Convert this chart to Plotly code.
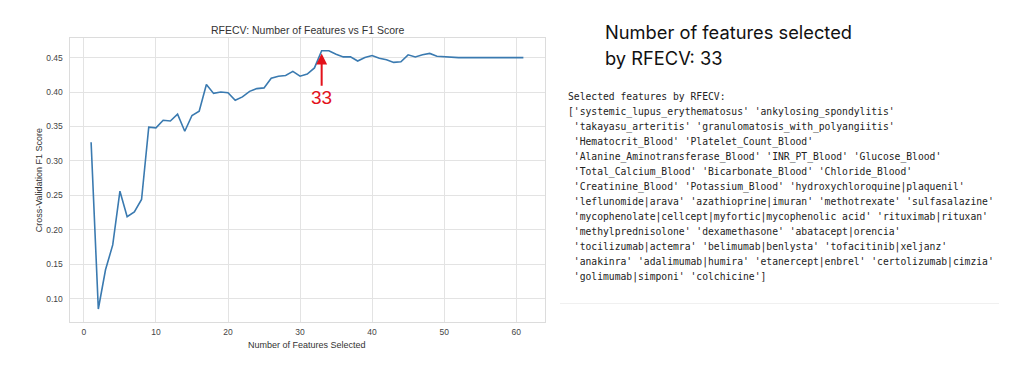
import plotly.graph_objects as go

# ---------------- data ----------------
n_features = list(range(1, 62))
f1_scores = [
    0.327, 0.085, 0.142, 0.178, 0.256, 0.219, 0.226, 0.244, 0.349, 0.348,
    0.359, 0.358, 0.368, 0.343, 0.366, 0.372, 0.411, 0.398, 0.400, 0.399,
    0.388, 0.393, 0.401, 0.405, 0.406, 0.420, 0.423, 0.424, 0.430, 0.423,
    0.426, 0.435, 0.460, 0.460, 0.455, 0.451, 0.451, 0.445, 0.450, 0.453,
    0.449, 0.447, 0.443, 0.444, 0.454, 0.451, 0.454, 0.456, 0.452, 0.451,
    0.450, 0.450, 0.450, 0.450, 0.450, 0.450, 0.450, 0.450, 0.450, 0.450,
    0.450,
]
best_n = 33
best_score = 0.460

x_ticks = [0, 10, 20, 30, 40, 50, 60]
y_ticks = [0.10, 0.15, 0.20, 0.25, 0.30, 0.35, 0.40, 0.45]

selected_features = [
    'systemic_lupus_erythematosus', 'ankylosing_spondylitis',
    'takayasu_arteritis', 'granulomatosis_with_polyangiitis',
    'Hematocrit_Blood', 'Platelet_Count_Blood',
    'Alanine_Aminotransferase_Blood', 'INR_PT_Blood', 'Glucose_Blood',
    'Total_Calcium_Blood', 'Bicarbonate_Blood', 'Chloride_Blood',
    'Creatinine_Blood', 'Potassium_Blood', 'hydroxychloroquine|plaquenil',
    'leflunomide|arava', 'azathioprine|imuran', 'methotrexate', 'sulfasalazine',
    'mycophenolate|cellcept|myfortic|mycophenolic acid', 'rituximab|rituxan',
    'methylprednisolone', 'dexamethasone', 'abatacept|orencia',
    'tocilizumab|actemra', 'belimumab|benlysta', 'tofacitinib|xeljanz',
    'anakinra', 'adalimumab|humira', 'etanercept|enbrel', 'certolizumab|cimzia',
    'golimumab|simponi', 'colchicine',
]
features_per_line = [2, 2, 2, 3, 3, 3, 4, 2, 3, 3, 4, 2]

# ---------------- figure ----------------
W, H = 1013, 391
px = lambda v: v / W
py = lambda v: 1 - v / H

plot_l, plot_r, plot_t, plot_b = 69.5, 545, 38.3, 322.3

fig = go.Figure()
fig.add_trace(go.Scatter(
    x=n_features, y=f1_scores, mode="lines",
    line=dict(color="#3a7ab0", width=1.6),
    hoverinfo="x+y", showlegend=False,
))

axis_font = dict(family="Liberation Sans, Arial, sans-serif", size=8.5, color="#444444")
fig.update_layout(
    width=W, height=H,
    margin=dict(l=0, r=0, t=0, b=0),
    paper_bgcolor="white", plot_bgcolor="white",
    xaxis=dict(
        domain=[px(plot_l), px(plot_r)], range=[-2, 64],
        tickvals=x_ticks, ticktext=[str(v) for v in x_ticks],
        showgrid=True, gridcolor="#e3e3e3", gridwidth=1,
        zeroline=False, showline=True, linecolor="#dcdcdc", linewidth=1, mirror=True,
        ticks="", tickfont=axis_font, ticklabelstandoff=1,
    ),
    yaxis=dict(
        domain=[py(plot_b), py(plot_t)], range=[0.0657, 0.478],
        tickvals=y_ticks, ticktext=[f"{v:.2f}" for v in y_ticks],
        showgrid=True, gridcolor="#e3e3e3", gridwidth=1,
        zeroline=False, showline=True, linecolor="#dcdcdc", linewidth=1, mirror=True,
        ticks="", tickfont=axis_font, ticklabelstandoff=4,
    ),
)

ann = []
# chart title
ann.append(dict(x=px((plot_l + plot_r) / 2), y=py(30), xref="paper", yref="paper",
                text="RFECV: Number of Features vs F1 Score", showarrow=False,
                xanchor="center", yanchor="middle",
                font=dict(family="Liberation Sans, Arial, sans-serif", size=10.5, color="#333333")))
# axis titles
ann.append(dict(x=px((plot_l + plot_r) / 2), y=py(344.5), xref="paper", yref="paper",
                text="Number of Features Selected", showarrow=False,
                xanchor="center", yanchor="middle",
                font=dict(family="Liberation Sans, Arial, sans-serif", size=9, color="#333333")))
ann.append(dict(x=px(39.3), y=py(180), xref="paper", yref="paper",
                text="Cross-Validation F1 Score", showarrow=False, textangle=-90,
                xanchor="center", yanchor="middle",
                font=dict(family="Liberation Sans, Arial, sans-serif", size=9, color="#333333")))
# arrow to best point
ann.append(dict(x=best_n, y=best_score - 0.004, xref="x", yref="y",
                ax=best_n, ay=0.407, axref="x", ayref="y",
                text="", showarrow=True, arrowhead=2, arrowsize=1.1,
                arrowwidth=2, arrowcolor="#e3121b"))
ann.append(dict(x=best_n, y=0.3925, xref="x", yref="y",
                text=str(best_n), showarrow=False, xanchor="center", yanchor="middle",
                font=dict(family="Liberation Sans, Arial, sans-serif", size=19, color="#e3121b")))

# right side heading
head_font = dict(family="Inter, Open Sans, sans-serif", size=18.3, color="#111111")
ann.append(dict(x=px(603), y=py(31.7), xref="paper", yref="paper",
                text="Number of features selected", showarrow=False,
                xanchor="left", yanchor="middle", font=head_font))
ann.append(dict(x=px(603), y=py(58), xref="paper", yref="paper",
                text=f"by RFECV: {best_n}", showarrow=False,
                xanchor="left", yanchor="middle", font=head_font))

# selected features text block (numpy-style print)
lines = ["Selected features by RFECV:"]
i = 0
for k, cnt in enumerate(features_per_line):
    chunk = " ".join(f"'{f}'" for f in selected_features[i:i + cnt])
    i += cnt
    prefix = "[" if k == 0 else "\u00a0"
    suffix = "]" if k == len(features_per_line) - 1 else ""
    lines.append(prefix + chunk + suffix)

mono = dict(family="DejaVu Sans Mono, Liberation Mono, monospace", size=9.7, color="#222222")
y0, dy = 96.7, 15.05
for j, line in enumerate(lines):
    ann.append(dict(x=px(566), y=py(y0 + j * dy), xref="paper", yref="paper",
                    text=line, showarrow=False, xanchor="left", yanchor="middle",
                    font=mono))

fig.update_layout(annotations=ann)

# faint separator under the output block
fig.add_shape(type="line", xref="paper", yref="paper",
              x0=px(560), x1=px(999), y0=py(303.5), y1=py(303.5),
              line=dict(color="#f0f0f0", width=1))

fig.write_html("out.html")
